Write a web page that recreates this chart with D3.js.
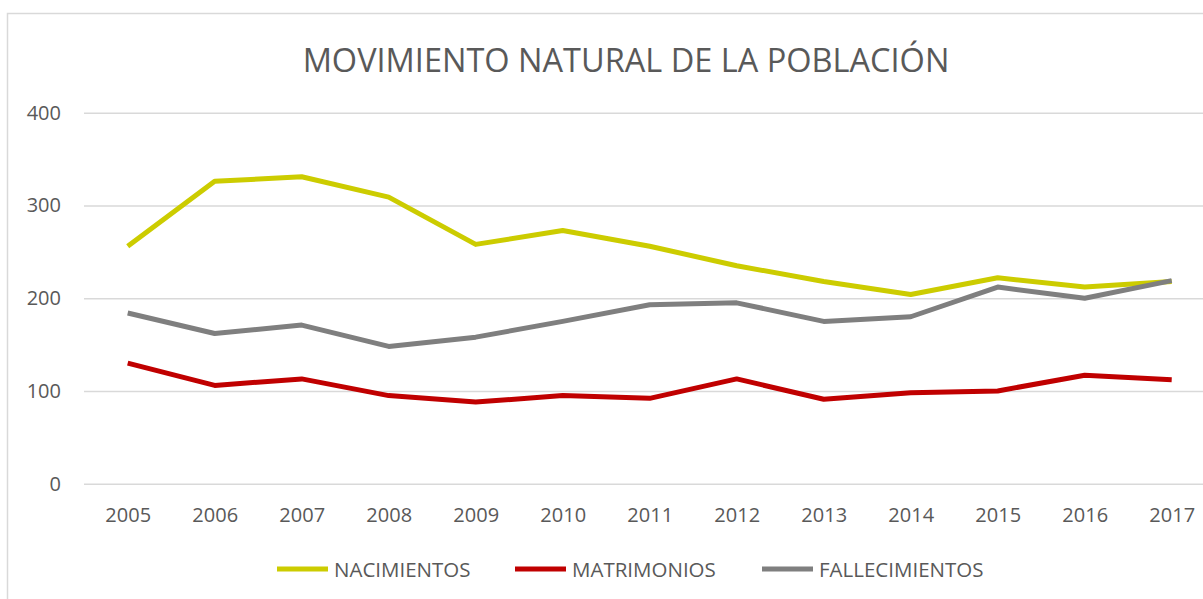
<!DOCTYPE html>
<html>
<head>
<meta charset="utf-8">
<script src="https://cdn.jsdelivr.net/npm/d3@7"></script>
<style>
  body { margin: 0; background: #fff; }
  text { font-family: "Open Sans", "Liberation Sans", sans-serif; fill: #595959; }
</style>
</head>
<body>
<script>
// data
const years = ["2005","2006","2007","2008","2009","2010","2011","2012","2013","2014","2015","2016","2017"];
const nacimientos   = [256, 326, 331, 309, 258, 273, 256, 235, 218, 204, 222, 212, 218];
const matrimonios   = [130, 106, 113, 95, 88, 95, 92, 113, 91, 98, 100, 117, 112];
const fallecimientos = [184, 162, 171, 148, 158, 175, 193, 195, 175, 180, 212, 200, 219];
const yTicks = [0, 100, 200, 300, 400];

const series = [
  { name: "NACIMIENTOS", values: nacimientos, color: "#cccc00" },
  { name: "MATRIMONIOS", values: matrimonios, color: "#c00000" },
  { name: "FALLECIMIENTOS", values: fallecimientos, color: "#7f7f7f" }
];

const W = 1203, H = 599;
const svg = d3.select("body").append("svg")
	.attr("width", W)
	.attr("height", H);

// chart frame (cut off on right and bottom like the reference)
svg.append("rect")
	.attr("x", 7.5).attr("y", 13.5)
	.attr("width", W + 20).attr("height", H + 20)
	.attr("fill", "none")
	.attr("stroke", "#d9d9d9")
	.attr("stroke-width", 1.5);

const plotLeft = 84, plotRight = 1215;
const x = d3.scalePoint()
	.domain(years)
	.range([127.7, 1171.7]);

const y = d3.scaleLinear()
	.domain([0, 400])
	.range([483.7, 112.7]);

// gridlines + y labels
const yAxis = svg.append("g")
	.attr("transform", `translate(${plotLeft},0)`)
	.call(d3.axisLeft(y).tickValues(yTicks).tickSize(-(plotRight - plotLeft)).tickPadding(23));
yAxis.select(".domain").remove();
yAxis.selectAll(".tick line").attr("stroke", "#d9d9d9").attr("stroke-width", 1.5);
yAxis.selectAll(".tick text").style("font-size", "20px").attr("fill", "#595959");

// x labels
const xAxis = svg.append("g")
	.attr("transform", "translate(0,483.7)")
	.call(d3.axisBottom(x).tickSize(0).tickPadding(24));
xAxis.select(".domain").remove();
xAxis.selectAll(".tick text").style("font-size", "20px").attr("fill", "#595959");

// lines
const line = d3.line()
	.x((d, i) => x(years[i]))
	.y(d => y(d));

svg.selectAll(".series")
	.data(series)
	.enter().append("path")
	.attr("class", "series")
	.attr("d", d => line(d.values))
	.attr("fill", "none")
	.attr("stroke", d => d.color)
	.attr("stroke-width", 5)
	.attr("stroke-linejoin", "round");

// title
svg.append("text")
	.attr("x", 626)
	.attr("y", 72)
	.attr("text-anchor", "middle")
	.style("font-size", "32.5px")
	.text("MOVIMIENTO NATURAL DE LA POBLACIÓN");

// legend
const legendX = [277, 515, 762];
const legend = svg.selectAll(".legend")
	.data(series)
	.enter().append("g")
	.attr("class", "legend")
	.attr("transform", (d, i) => `translate(${legendX[i]},569)`);

legend.append("line")
	.attr("x1", 0).attr("x2", 51)
	.attr("y1", 0).attr("y2", 0)
	.attr("stroke", d => d.color)
	.attr("stroke-width", 5);

legend.append("text")
	.attr("x", 57)
	.attr("y", 7.5)
	.style("font-size", "20.5px")
	.text(d => d.name);
</script>
</body>
</html>
